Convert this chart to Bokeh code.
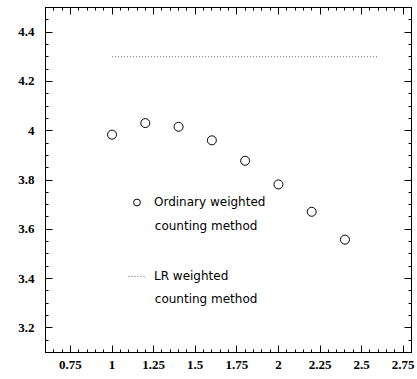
from bokeh.plotting import figure
from bokeh.models import (FixedTicker, LinearAxis, CustomJSTickFormatter, Legend,
                          LegendItem, Label, Range1d)
from bokeh.embed import file_html
from bokeh.resources import INLINE

# ---- data ----
x_vals = [1.0, 1.2, 1.4, 1.6, 1.8, 2.0, 2.2, 2.4]
ordinary = [3.984, 4.031, 4.016, 3.961, 3.878, 3.782, 3.671, 3.558]
lr_x = [1.0, 2.6]
lr_y = [4.3, 4.3]

x_major = [0.75, 1.0, 1.25, 1.5, 1.75, 2.0, 2.25, 2.5, 2.75]
x_minor = [round(0.6 + 0.05 * i, 2) for i in range(45)]
y_major = [3.2, 3.4, 3.6, 3.8, 4.0, 4.2, 4.4]
y_minor = [round(3.1 + 0.05 * i, 2) for i in range(29)]

label_ord = ["Ordinary weighted", "counting method"]
label_lr = ["LR weighted", "counting method"]

X0, X1, Y0, Y1 = 0.6, 2.8, 3.1, 4.5

W, H = 417, 379
p = figure(width=W, height=H, output_backend="svg", toolbar_location=None,
           x_range=Range1d(X0, X1), y_range=Range1d(Y0, Y1),
           min_border_left=45, min_border_right=6, min_border_top=7,
           min_border_bottom=27)
p.grid.visible = False
p.outline_line_color = "black"
p.outline_line_width = 1
p.background_fill_color = "white"
p.border_fill_color = "white"

p.add_layout(LinearAxis(), "above")
p.add_layout(LinearAxis(), "right")

p.xaxis.ticker = FixedTicker(ticks=x_major, minor_ticks=x_minor)
p.yaxis.ticker = FixedTicker(ticks=y_major, minor_ticks=y_minor)

fmt = CustomJSTickFormatter(code="return String(Number(tick.toFixed(2)));")
blank = CustomJSTickFormatter(code="return '';")
for ax in p.axis:
    ax.axis_line_color = "black"
    ax.major_tick_in = 7
    ax.major_tick_out = 0
    ax.minor_tick_in = 3
    ax.minor_tick_out = 0
    ax.major_tick_line_color = "black"
    ax.minor_tick_line_color = "black"
    ax.major_label_text_font = "Liberation Serif"
    ax.major_label_text_font_style = "bold"
    ax.major_label_text_font_size = "13px"
    ax.major_label_text_color = "black"

p.below[0].formatter = fmt
p.left[0].formatter = fmt
p.below[0].major_label_standoff = 8
p.left[0].major_label_standoff = 11
for ax in (p.above[0], p.right[0]):
    ax.formatter = blank
    ax.major_label_standoff = 0

lr = p.line(lr_x, lr_y, line_color="#666666", line_width=1, line_dash="1 2")
pts = p.scatter(x_vals, ordinary, marker="circle", size=9, fill_color=None,
                line_color="black", line_width=1)

legend = Legend(items=[LegendItem(label=label_ord[0], renderers=[pts]),
                       LegendItem(label=label_lr[0], renderers=[lr])],
                location=(83, 66), glyph_width=17, glyph_height=20,
                label_height=20, label_standoff=9, spacing=54, padding=0,
                margin=0, border_line_color=None, background_fill_alpha=0,
                label_text_font="DejaVu Sans", label_text_font_size="12px",
                label_text_color="black")
p.add_layout(legend)

for txt, yy in [(label_ord[1], 3.612), (label_lr[1], 3.316)]:
    p.add_layout(Label(x=1.257, y=yy, text=txt, text_font="DejaVu Sans",
                       text_font_size="12px", text_baseline="middle",
                       text_color="black"))

open("out.html", "w").write(file_html(p, INLINE))
